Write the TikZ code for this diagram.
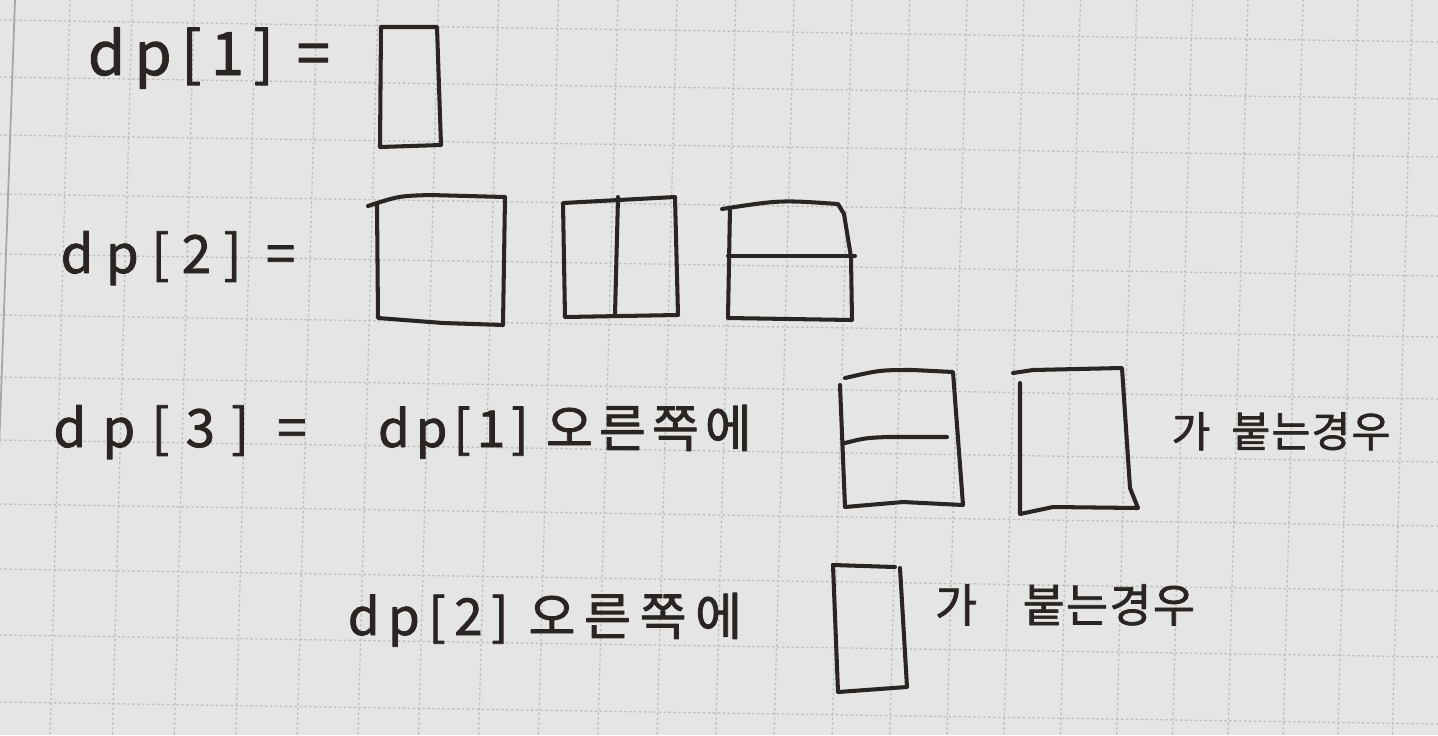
\documentclass[tikz,border=0pt]{standalone}
\usepackage{fontspec}
\newfontfamily\hand[FakeBold=1.6]{Noto Sans CJK KR}
\definecolor{paper}{HTML}{E5E5E3}
\definecolor{ink}{HTML}{2A2522}
\definecolor{gridln}{HTML}{BDBDBB}
\begin{document}
\begin{tikzpicture}[x=0.02cm, y=-0.02cm, line join=round, line cap=round,
  pen/.style={draw=ink, line width=2.3pt},
  hand/.style 2 args={text=ink, anchor=base, inner sep=0pt,
    font=\hand\addfontfeature{LetterSpace=#2}\fontsize{#1}{#1}\selectfont},
  gridline/.style={gridln, dotted, line width=0.8pt}]
\fill[paper] (0,0) rectangle (1438,735);
\useasboundingbox (0,0) rectangle (1438,735);
% Grid paper
\foreach \k in {0,...,23} {
  \pgfmathsetmacro{\xt}{70+62.5*\k-0.18*\k*\k}
  \draw[gridline] (\xt,0) -- (\xt-20,735);
}
\foreach \j in {0,...,11} {
  \pgfmathsetmacro{\yl}{20+56.5*\j+0.5*\j*\j}
  \draw[gridline] (0,\yl) -- (1438,\yl+22);
}
\draw[gray!70, line width=1pt] (15,0) -- (-2,480);
% dp[1]
\node[hand={34}{16}] (dp1) at (209,75) {dp[1] =};
\draw[pen] (381,27) -- (437,27) -- (441,145) -- (380,147) -- cycle;
% dp[2]
\node[hand={30}{24}] (dp2) at (178,273) {dp[2] =};
\draw[pen] (368,206) -- (377,203) .. controls (400,196) .. (430,195) -- (505,197)
  -- (503,325) -- (443,323) -- (378,318) -- (377,205);
\draw[pen] (563,203) -- (675,197) -- (678,315) -- (565,317) -- cycle;
\draw[pen] (618,197) -- (615,315);
\draw[pen] (722,209) .. controls (780,200) .. (838,204) -- (844,214) -- (851,257)
  -- (852,320) -- (728,318) -- (730,208);
\draw[pen] (728,256) -- (855,256);
% dp[3]
\node[hand={30}{31}] (dp3) at (180,447) {dp[3] =};
\node[hand={29}{12}] (case1) at (565,447) {dp[1] 오른쪽에};
\draw[pen] (845,378) .. controls (880,370) .. (913,370) -- (953,372) -- (963,505)
  -- (903,502) -- (845,507) -- (840,385);
\draw[pen] (845,443) .. controls (865,438) .. (887,437) -- (947,437);
\draw[pen] (1013,373) -- (1033,370) -- (1122,368) -- (1130,488) -- (1138,508)
  -- (1053,507) -- (1020,514) -- (1020,383);
\node[hand={24}{3}] (join1) at (1281,447) {가\enspace 붙는경우};
\node[hand={29}{17}] (case2) at (545,635) {dp[2] 오른쪽에};
\draw[pen] (833,565) -- (895,567);
\draw[pen] (900,568) -- (907,687) -- (838,692) -- (833,565);
\node[hand={26}{3}] (join2) at (1065,622) {가\quad 붙는경우};
\end{tikzpicture}
\end{document}
